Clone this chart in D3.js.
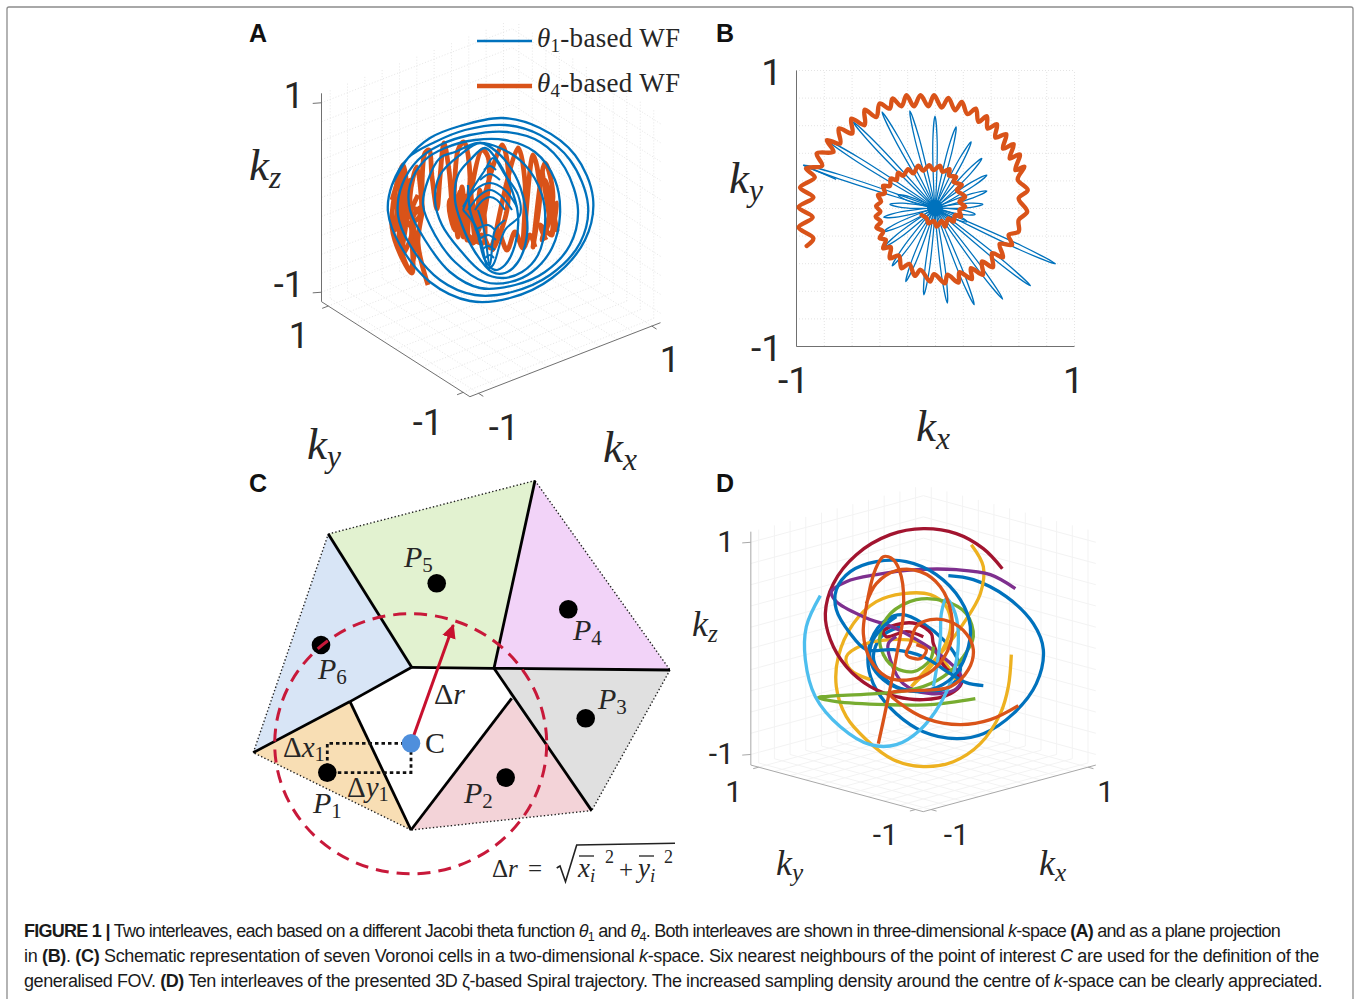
<!DOCTYPE html>
<html>
<head>
<meta charset="utf-8">
<style>
  html, body { margin: 0; padding: 0; background: #fff; }
  svg { display: block; }
</style>
<script src="https://cdn.jsdelivr.net/npm/d3@7"></script>
</head>
<body>
<div id="chart"></div>
<script>
"use strict";

var colors = { blue: '#0072BD', orange: '#D95319', yellow: '#EDB120', purple: '#7E2F8E', green: '#77AC30', cyan: '#4DBEEE', red: '#A2142F' };
var gridTicks = [-1, -0.8, -0.6, -0.4, -0.2, 0, 0.2, 0.4, 0.6, 0.8, 1];
var endTicks = [-1, 1];

// panel A, projected view coordinates
var aBlueSpiral = [[-0.98,0.25],[-0.82,0.52],[-0.60,0.72],[-0.30,0.84],[0.12,0.92],[0.50,0.82],[0.85,0.55],[1.03,0.12],[0.95,-0.30],[0.62,-0.68],[0.20,-0.88],[-0.20,-0.91],[-0.60,-0.72],[-0.90,-0.35],[-1.02,-0.02],[-0.98,0.25],[-0.82,0.52],
  [-0.55,0.68],[-0.25,0.80],[0.15,0.85],[0.50,0.75],[0.80,0.50],[0.98,0.05],[0.90,-0.33],[0.60,-0.65],[0.22,-0.82],[-0.15,-0.85],[-0.50,-0.70],[-0.80,-0.35],[-0.92,-0.05],[-0.88,0.25],[-0.72,0.50],
  [-0.50,0.65],[-0.20,0.75],[0.17,0.78],[0.50,0.68],[0.75,0.42],[0.88,0.00],[0.80,-0.35],[0.55,-0.62],[0.25,-0.75],[-0.10,-0.78],[-0.40,-0.62],[-0.65,-0.30],[-0.80,0.00],[-0.80,0.25],[-0.65,0.50],
  [-0.45,0.62],[-0.15,0.70],[0.15,0.70],[0.45,0.58],[0.65,0.30],[0.70,-0.05],[0.62,-0.38],[0.42,-0.62],[0.20,-0.72],[-0.05,-0.72],[-0.35,-0.52],[-0.55,-0.25],[-0.67,0.05],[-0.62,0.30],[-0.50,0.52],
  [-0.35,0.58],[-0.12,0.67],[0.10,0.62],[0.35,0.45],[0.52,0.15],[0.55,-0.15],[0.48,-0.45],[0.32,-0.62],[0.12,-0.68],[-0.08,-0.62],[-0.30,-0.40],[-0.48,-0.15],[-0.55,0.10],[-0.50,0.35],
  [-0.30,0.55],[-0.10,0.67],[0.07,0.58],[0.25,0.35],[0.35,0.05],[0.37,-0.25],[0.28,-0.52],[0.15,-0.63],[0.02,-0.62],[-0.15,-0.42],[-0.28,-0.15],[-0.35,0.10],[-0.32,0.35],
  [-0.20,0.50],[-0.05,0.62],[0.07,0.50],[0.20,0.25],[0.28,-0.05],[0.25,-0.35],[0.15,-0.55],[0.05,-0.60],[-0.05,-0.50],[-0.12,-0.25],[-0.20,0.00],[-0.22,0.25]];
var aBlueCore = [
  [[-0.27,0.00],[-0.18,0.20],[-0.05,0.40],[0.03,0.52],[0.15,0.35],[0.28,0.15],[0.30,-0.05],[0.15,-0.20],[0.03,-0.55],[-0.02,-0.58],[-0.08,-0.35],[-0.15,-0.15],[-0.27,0.00]],
  [[-0.27,0.03],[-0.15,0.20],[0.00,0.27],[0.15,0.20],[0.27,0.03]],
  [[-0.22,0.00],[-0.10,0.15],[0.00,0.20],[0.10,0.15],[0.22,0.00]],
  [[-0.15,0.00],[-0.07,0.10],[0.00,0.13],[0.07,0.10],[0.15,0.00]],
  [[-0.10,0.30],[0.00,0.36],[0.10,0.30]],
  [[-0.06,0.40],[0.00,0.44],[0.06,0.40]],
  [[-0.15,-0.20],[-0.02,-0.15],[0.05,-0.20]],
  [[-0.12,-0.30],[-0.02,-0.25],[0.06,-0.30]],
  [[-0.08,-0.40],[-0.02,-0.36],[0.05,-0.40]],
  [[-0.05,-0.48],[0.00,-0.45],[0.04,-0.48]],
  [[-0.12,0.00],[-0.06,-0.20],[0.00,-0.55],[0.05,-0.20],[0.15,-0.10]]
];
var aOrangeLeft = [[-0.62,-0.75],[-0.72,-0.33],[-0.68,0.03],[-0.77,-0.07],[-0.78,-0.63],[-0.87,-0.50],[-0.98,-0.17],[-0.93,0.27],[-0.87,0.45],[-0.83,0.13],[-0.90,-0.33],[-0.80,-0.60],[-0.75,-0.33],[-0.80,0.13],[-0.73,0.43],[-0.68,0.03]];
var aOrangeLeftDense = [[-0.98,0.10],[-0.88,0.40],[-0.95,-0.20],[-0.85,0.20],[-0.92,-0.35],[-0.82,0.00],[-0.88,-0.45],[-0.78,-0.20],[-0.94,0.05],[-0.80,0.30],[-0.90,0.15],[-0.70,-0.05],[-0.84,-0.15],[-0.72,0.15]];
var aOrangeRight = [[-0.68,0.03],[-0.65,0.57],[-0.61,0.60],[-0.58,0.33],[-0.53,0.01],[-0.50,0.33],[-0.46,0.67],[-0.41,0.40],[-0.37,0.00],[-0.32,0.60],[-0.26,0.68],[-0.20,0.33],[-0.27,-0.27],[-0.08,0.60],[-0.02,0.53],[-0.05,0.00],[-0.17,-0.33],[0.12,0.65],[0.17,0.50],[0.17,0.00],[0.03,-0.40],[0.28,0.62],[0.35,0.27],[0.33,-0.38],[0.43,0.55],[0.50,0.20],[0.43,-0.37],[0.55,0.47],[0.63,0.13],[0.52,-0.30],[0.67,0.07],[0.62,-0.23]];
var aOrangeEdge = [[0.52,0.40],[0.60,-0.10],[0.55,0.30],[0.65,0.00],[0.58,0.20],[0.67,-0.20],[0.60,0.10],[0.62,-0.25],[0.50,-0.15],[0.56,-0.30]];
var aOrangeBlob = [[-0.40,0.00],[-0.37,0.20],[-0.32,-0.27],[-0.28,0.23],[-0.23,-0.30],[-0.20,0.23],[-0.15,-0.27],[-0.10,0.20],[-0.07,-0.33],[-0.38,-0.07],[-0.33,0.13],[-0.27,-0.13],[-0.22,0.13],[-0.40,0.10],[-0.35,-0.20],[-0.30,0.18],[-0.26,-0.22],[-0.18,0.10],[-0.14,-0.18]];
var aOrangeBottom = [[-0.25,-0.25],[-0.17,-0.33],[-0.08,-0.25],[0.00,-0.38],[0.08,-0.22],[0.17,-0.40],[0.25,-0.22],[0.33,-0.38],[0.40,-0.25],[0.45,-0.37]];

// panel B, kx / ky
var bPetalTips = [[0.867,-0.405],[0.687,-0.564],[0.487,-0.660],[0.282,-0.701],[0.089,-0.689],[-0.080,-0.629],[-0.210,-0.533],[-0.308,-0.419],[-0.361,-0.280],[-0.369,-0.171],[-0.369,-0.067],[-0.325,0.027],[-0.265,0.094],[-0.947,0.311],[-0.778,0.492],[-0.590,0.624],[-0.381,0.696],[-0.181,0.704],[0.000,0.665],[0.152,0.588],[0.260,0.480],[0.337,0.359],[0.373,0.239],[0.373,0.123],[0.345,0.027],[0.289,-0.046],[0.229,-0.099]];
var bBlueHook = [[-0.947,0.311],[-0.711,0.207]];
var bOrange = [[-0.923,-0.275],[-0.875,-0.219],[-0.981,-0.140],[-0.880,-0.067],[-0.981,0.005],[-0.875,0.077],[-0.971,0.149],[-0.865,0.222],[-0.928,0.287],[-0.812,0.306],[-0.851,0.395],[-0.730,0.407],[-0.778,0.492],[-0.682,0.467],[-0.692,0.576],[-0.595,0.540],[-0.602,0.648],[-0.506,0.600],[-0.506,0.713],[-0.422,0.660],[-0.398,0.757],[-0.325,0.720],[-0.306,0.793],[-0.241,0.737],[-0.205,0.817],[-0.152,0.737],[-0.104,0.817],[-0.048,0.737],[-0.007,0.817],[0.048,0.728],[0.096,0.798],[0.145,0.708],[0.193,0.769],[0.234,0.680],[0.294,0.720],[0.313,0.624],[0.373,0.665],[0.378,0.576],[0.446,0.607],[0.434,0.511],[0.513,0.535],[0.489,0.431],[0.566,0.463],[0.537,0.359],[0.610,0.388],[0.578,0.275],[0.643,0.299],[0.595,0.207],[0.667,0.130],[0.602,0.070],[0.663,-0.027],[0.602,-0.087],[0.602,-0.171],[0.530,-0.195],[0.554,-0.267],[0.465,-0.260],[0.489,-0.357],[0.410,-0.328],[0.417,-0.429],[0.337,-0.388],[0.345,-0.484],[0.258,-0.436],[0.265,-0.516],[0.176,-0.465],[0.169,-0.540],[0.089,-0.484],[0.072,-0.545],[-0.007,-0.480],[-0.036,-0.533],[-0.104,-0.448],[-0.145,-0.492],[-0.186,-0.405],[-0.241,-0.436],[-0.260,-0.345],[-0.325,-0.364],[-0.318,-0.284],[-0.373,-0.292],[-0.354,-0.231],[-0.398,-0.219],[-0.373,-0.171],[-0.422,-0.140],[-0.388,-0.099],[-0.427,-0.063],[-0.393,-0.027],[-0.424,0.014],[-0.388,0.046],[-0.410,0.094],[-0.361,0.106],[-0.373,0.161],[-0.325,0.159],[-0.318,0.214],[-0.277,0.202],[-0.265,0.255],[-0.229,0.234],[-0.193,0.282],[-0.157,0.251],[-0.120,0.306],[-0.084,0.270],[-0.041,0.311],[-0.012,0.275],[0.036,0.306],[0.053,0.263],[0.104,0.282],[0.101,0.234],[0.152,0.227],[0.133,0.190],[0.193,0.166],[0.157,0.130],[0.217,0.082],[0.176,0.046],[0.217,0.010],[0.176,-0.014],[0.186,-0.063],[0.145,-0.051],[0.133,-0.099],[0.096,-0.075],[0.072,-0.135],[0.048,-0.094],[0.012,-0.135],[-0.007,-0.094],[-0.048,-0.111],[-0.060,-0.075],[-0.096,-0.051]];

// panel C, schematic units with the point of interest C at the origin
var cVertices = { a: [-82.7,209.3], b: [124,262.7], c: [259,73.3], d: [180.7,-67.3], e: [0,-86.7], f: [-157.7,-9.3], g: [0.7,76], h: [83,75], i: [100.7,45], j: [-61,41.7] };
var cCells = [
  { pts: ['a','b','h','g'], fill: '#e2f2d0' },
  { pts: ['b','c','h'], fill: '#f2d3f8' },
  { pts: ['h','c','d','i'], fill: '#e0e0e0' },
  { pts: ['i','d','e'], fill: '#f3d3d8' },
  { pts: ['j','e','f'], fill: '#f8deb4' },
  { pts: ['a','g','j','f'], fill: '#d8e5f6' }
];
var cSolidEdges = [['a','g'],['b','h'],['g','h'],['h','c'],['h','d'],['i','e'],['e','j'],['j','g'],['j','f']];
var cDottedEdges = [['a','b'],['b','c'],['c','d'],['d','e'],['e','f'],['f','a']];
var cPoints = [[25.7,160],[157.3,134],[174.7,25],[94.7,-34.3],[-83.7,-29.3],[-90,98.3]];
var cPointNames = [['P','5',404,567],['P','4',573,640],['P','3',598,709],['P','2',464,803],['P','1',313,813],['P','6',318,679]];
var cConnectors = [[[0,0],[-83.7,0],[-83.7,-29.3],[0,-29.3],[0,0]]];

// panel D, projected view coordinates
var dCurves = [
  { color: colors.blue, pts: [[0.25,0.71],[0.50,0.67],[0.83,0.50],[1.10,0.23],[1.20,-0.03],[1.13,-0.37],[0.90,-0.67],[0.60,-0.87],[0.33,-0.92],[0.00,-0.85],[-0.27,-0.67],[-0.47,-0.43],[-0.55,-0.20],[-0.52,0.07],[-0.37,0.27],[-0.20,0.32],[0.00,0.23],[0.20,0.07],[0.33,-0.10],[0.37,-0.23],[0.30,-0.37],[0.13,-0.45],[-0.07,-0.45],[-0.27,-0.40],[-0.43,-0.27],[-0.50,-0.10],[-0.42,0.10],[-0.23,0.20]] },
  { color: colors.yellow, pts: [[0.88,-0.08],[0.85,-0.40],[0.77,-0.67],[0.57,-0.97],[0.30,-1.15],[0.00,-1.20],[-0.30,-1.13],[-0.57,-0.93],[-0.77,-0.70],[-0.87,-0.40],[-0.85,-0.10],[-0.70,0.23],[-0.47,0.45],[-0.20,0.53],[0.07,0.52],[0.23,0.40],[0.27,0.17],[0.13,-0.13],[-0.10,-0.38]] },
  { color: colors.yellow, pts: [[0.48,1.02],[0.60,0.80],[0.57,0.53],[0.40,0.23],[0.23,0.00],[0.07,-0.18],[-0.12,-0.40]] },
  { color: colors.yellow, pts: [[-0.53,-0.33],[-0.73,-0.23],[-0.77,-0.10],[-0.60,0.02],[-0.33,0.07],[-0.07,0.05],[0.17,-0.10],[0.32,-0.33]] },
  { color: colors.red, pts: [[0.79,0.78],[0.60,0.98],[0.33,1.13],[0.00,1.18],[-0.33,1.12],[-0.67,0.92],[-0.90,0.63],[-0.98,0.33],[-0.93,0.07],[-0.77,-0.20],[-0.53,-0.40],[-0.27,-0.50],[0.00,-0.53],[0.27,-0.47],[0.38,-0.37],[0.37,-0.30],[0.23,-0.22],[0.10,0.03],[0.08,0.13],[-0.07,0.23],[-0.27,0.22],[-0.40,0.15],[-0.37,0.10],[-0.17,0.15],[0.00,0.10]] },
  { color: colors.purple, pts: [[0.92,0.58],[0.67,0.72],[0.33,0.77],[-0.07,0.77],[-0.47,0.72],[-0.77,0.65],[-0.92,0.55],[-0.87,0.45],[-0.60,0.30],[-0.27,0.18],[0.00,0.03],[0.23,-0.13],[0.38,-0.30],[0.33,-0.42],[0.07,-0.47],[-0.20,-0.37],[-0.33,-0.13],[-0.35,0.03],[-0.27,0.10]] },
  { color: colors.green, pts: [[0.52,-0.52],[0.07,-0.58],[-0.37,-0.58],[-0.87,-0.55],[-1.05,-0.51],[-0.87,-0.49],[-0.47,-0.47],[-0.07,-0.42],[0.20,-0.30],[0.40,-0.10],[0.50,0.10],[0.43,0.33],[0.23,0.45],[-0.07,0.47],[-0.33,0.33],[-0.43,0.13],[-0.42,-0.03],[-0.30,-0.20],[-0.10,-0.25],[0.07,-0.13],[0.10,0.00]] },
  { color: colors.cyan, pts: [[-1.03,0.51],[-1.17,0.20],[-1.18,-0.13],[-1.08,-0.50],[-0.83,-0.80],[-0.53,-0.98],[-0.27,-0.98],[-0.03,-0.83],[0.17,-0.57],[0.30,-0.27],[0.35,0.03],[0.32,0.33],[0.23,0.48],[0.18,0.33],[0.17,0.07],[0.13,-0.23],[0.10,-0.40]] },
  { color: colors.blue, pts: [[0.60,-0.39],[0.43,-0.36],[0.27,-0.27],[0.00,-0.10],[-0.30,-0.03],[-0.57,-0.03],[-0.73,0.13],[-0.87,0.37],[-0.87,0.57],[-0.73,0.75],[-0.47,0.85],[-0.17,0.85],[0.13,0.72],[0.37,0.47],[0.47,0.20],[0.43,-0.07],[0.30,-0.30],[0.07,-0.43],[-0.20,-0.43],[-0.40,-0.33],[-0.52,-0.17],[-0.52,0.03],[-0.40,0.20],[-0.27,0.30]] },
  { color: colors.orange, pts: [[-0.45,-0.97],[-0.37,-0.60],[-0.27,-0.10],[-0.20,0.33],[-0.22,0.70],[-0.30,0.87],[-0.40,0.90],[-0.48,0.77],[-0.57,0.40],[-0.60,0.13],[-0.53,-0.13],[-0.37,-0.30],[-0.13,-0.33],[0.10,-0.23],[0.27,0.03],[0.28,0.33],[0.17,0.60],[-0.03,0.75],[-0.27,0.76],[-0.47,0.63],[-0.57,0.43]] },
  { color: colors.orange, pts: [[0.95,-0.59],[0.67,-0.73],[0.37,-0.78],[0.03,-0.72],[-0.23,-0.57],[-0.33,-0.47],[0.27,-0.40],[0.45,-0.23],[0.50,-0.03],[0.43,0.13],[0.27,0.25],[0.07,0.27],[-0.07,0.20],[-0.13,0.03],[-0.17,-0.08],[-0.03,-0.12],[0.03,-0.03],[-0.07,0.02]] }
];

var captionLines = [
  { y: 937, width: 1256, parts: [
    { t: 'FIGURE 1 |', b: 1 }, { t: ' Two interleaves, each based on a different Jacobi theta function ' }, { t: 'θ', i: 1 }, { t: '1', sub: 1 }, { t: ' and ' }, { t: 'θ', i: 1 }, { t: '4', sub: 1 }, { t: '. Both interleaves are shown in three-dimensional ' }, { t: 'k', i: 1 }, { t: '-space ' }, { t: '(A)', b: 1 }, { t: ' and as a plane projection' }] },
  { y: 962, width: 1295, parts: [
    { t: 'in ' }, { t: '(B)', b: 1 }, { t: '. ' }, { t: '(C)', b: 1 }, { t: ' Schematic representation of seven Voronoi cells in a two-dimensional ' }, { t: 'k', i: 1 }, { t: '-space. Six nearest neighbours of the point of interest ' }, { t: 'C', i: 1 }, { t: ' are used for the definition of the' }] },
  { y: 987, width: 1298, parts: [
    { t: 'generalised FOV. ' }, { t: '(D)', b: 1 }, { t: ' Ten interleaves of the presented 3D ζ-based Spiral trajectory. The increased sampling density around the centre of ' }, { t: 'k', i: 1 }, { t: '-space can be clearly appreciated.' }] }
];

var SANS = '"Liberation Sans", Arial, sans-serif';
var TICKS = 'Roboto, "Liberation Sans", sans-serif';
var SERIF = '"Liberation Serif", serif';
var width = 1356;
var height = 999;

var svg = d3.select('#chart').append('svg').attr('width', width).attr('height', height);

svg.append('rect').attr('x', 7).attr('y', 7).attr('width', 1346).attr('height', 1010).attr('rx', 2)
  .attr('fill', '#fff').attr('stroke', '#8c8c8c').attr('stroke-width', 1.3);

var smooth = d3.curveCatmullRom.alpha(0.5);

// text with optional italic / subscript runs
function mathText(parent, x, y, parts, size, family, fill, drop) {
  var text = parent.append('text').attr('x', x).attr('y', y)
    .attr('font-family', family || SERIF).attr('font-size', size).attr('fill', fill || '#262626');
  var offset = 0;
  var subDrop = drop === undefined ? 0.2 : drop;
  parts.forEach(function (p) {
    var target = p.sub ? size * subDrop : 0;
    text.append('tspan')
      .attr('dy', target - offset)
      .attr('font-style', p.i ? 'italic' : 'normal')
      .attr('font-weight', p.b ? 'bold' : 'normal')
      .attr('font-size', p.sub ? size * 0.7 : size)
      .text(p.t);
    offset = target;
  });
  return text;
}

function kLabel(parent, x, y, axis, size) {
  return mathText(parent, x, y, [{ t: 'k', i: 1 }, { t: axis, i: 1, sub: 1 }], size, SERIF, '#262626', 0.17);
}

function tickLabel(parent, x, y, value, size) {
  parent.append('text').attr('x', x).attr('y', y).attr('text-anchor', 'end')
    .attr('font-family', TICKS).attr('font-size', size).attr('fill', '#262626').text(value);
}

function panelLetter(letter, x, y) {
  svg.append('text').attr('x', x).attr('y', y).attr('font-family', SANS).attr('font-weight', 'bold')
    .attr('font-size', 25).attr('fill', '#111').text(letter);
}

// oblique box with grid walls, used by panels A and D
function drawBox(g, u, v, box) {
  var proj = function (kx, ky, kz) {
    return [u(box.ux(kx) + box.uy(ky)) + box.dx, v(box.vx(kx) + box.vy(ky) + box.vz(kz)) + box.dy];
  };
  var L = box.limit;
  var seg = function (a, b, stroke, w, dash) {
    var p = proj(a[0], a[1], a[2]);
    var q = proj(b[0], b[1], b[2]);
    g.append('line').attr('x1', p[0]).attr('y1', p[1]).attr('x2', q[0]).attr('y2', q[1])
      .attr('stroke', stroke).attr('stroke-width', w).attr('stroke-dasharray', dash || null);
  };
  gridTicks.forEach(function (t) {
    seg([t, L, -L], [t, L, L], box.grid, 1, box.dash);
    seg([-L, L, t], [L, L, t], box.grid, 1, box.dash);
    seg([L, t, -L], [L, t, L], box.grid, 1, box.dash);
    seg([L, -L, t], [L, L, t], box.grid, 1, box.dash);
    seg([t, -L, -L], [t, L, -L], box.grid, 1, box.dash);
    seg([-L, t, -L], [L, t, -L], box.grid, 1, box.dash);
  });
  seg([-L, L, -L], [-L, L, L], box.axis, 1);
  seg([-L, L, -L], [-L, -L, -L], box.axis, 1);
  seg([-L, -L, -L], [L, -L, -L], box.axis, 1);
  endTicks.forEach(function (t) {
    seg([-L, L, t], [-L - 0.07, L + 0.04, t], box.axis, 1);
    seg([-L, t, -L], [-L - 0.07, t, -L], box.axis, 1);
    seg([t, -L, -L], [t, -L - 0.07, -L], box.axis, 1);
  });
}

// ---- panel A
var aG = svg.append('g');
var aU = d3.scaleLinear().domain([-1, 1]).range([390, 590]);
var aV = d3.scaleLinear().domain([-1, 1]).range([310, 110]);
drawBox(aG, aU, aV, {
  limit: 1.1, dx: 1, dy: -2, grid: '#e6e6e6', axis: '#707070', dash: '1 2',
  ux: d3.scaleLinear().domain([-1.1, 1.1]).range([-0.953, 0.953]),
  uy: d3.scaleLinear().domain([-1.1, 1.1]).range([0.742, -0.742]),
  vx: d3.scaleLinear().domain([-1.1, 1.1]).range([-0.37, 0.37]),
  vy: d3.scaleLinear().domain([-1.1, 1.1]).range([-0.475, 0.475]),
  vz: d3.scaleLinear().domain([-1.1, 1.1]).range([-1.042, 1.042])
});
var aLine = d3.line().x(function (d) { return aU(d[0]); }).y(function (d) { return aV(d[1]); }).curve(smooth);
[aOrangeLeft, aOrangeLeftDense, aOrangeRight, aOrangeEdge, aOrangeBlob, aOrangeBottom].forEach(function (s) {
  aG.append('path').attr('d', aLine(s)).attr('fill', 'none').attr('stroke', colors.orange).attr('stroke-width', 4.8).attr('stroke-linejoin', 'round');
});
aG.append('path').attr('d', aLine(aBlueSpiral)).attr('fill', 'none').attr('stroke', colors.blue).attr('stroke-width', 2.3);
aBlueCore.forEach(function (s) {
  aG.append('path').attr('d', aLine(s)).attr('fill', 'none').attr('stroke', colors.blue).attr('stroke-width', 2.1);
});
aG.append('line').attr('x1', 477).attr('x2', 532).attr('y1', 41).attr('y2', 41).attr('stroke', colors.blue).attr('stroke-width', 2.4);
aG.append('line').attr('x1', 477).attr('x2', 532).attr('y1', 86).attr('y2', 86).attr('stroke', colors.orange).attr('stroke-width', 4.4);
mathText(aG, 537, 47, [{ t: 'θ', i: 1 }, { t: '1', sub: 1 }, { t: '-based WF' }], 27).attr('textLength', 143);
mathText(aG, 537, 92, [{ t: 'θ', i: 1 }, { t: '4', sub: 1 }, { t: '-based WF' }], 27).attr('textLength', 143);
tickLabel(aG, 304, 108, '1', 36);
tickLabel(aG, 304, 297, '-1', 36);
tickLabel(aG, 309, 348, '1', 36);
tickLabel(aG, 443, 435, '-1', 36);
tickLabel(aG, 519, 440, '-1', 36);
tickLabel(aG, 680, 372, '1', 36);
kLabel(aG, 249, 180, 'z', 45);
kLabel(aG, 307, 459, 'y', 45);
kLabel(aG, 603, 462, 'x', 45);

// ---- panel B
var bG = svg.append('g');
var bX = d3.scaleLinear().domain([-1, 1]).range([796, 1074]);
var bY = d3.scaleLinear().domain([-1, 1]).range([346, 70]);
var gridX = bG.append('g').attr('transform', 'translate(0,346)')
  .call(d3.axisBottom(bX).tickValues(gridTicks).tickSize(-276).tickFormat(''));
var gridY = bG.append('g').attr('transform', 'translate(796,0)')
  .call(d3.axisLeft(bY).tickValues(gridTicks).tickSize(-278).tickFormat(''));
[gridX, gridY].forEach(function (g) {
  g.select('.domain').remove();
  g.selectAll('line').attr('stroke', '#e4e4e4').attr('stroke-dasharray', '1 2');
});
var axisX = bG.append('g').attr('transform', 'translate(0,346)')
  .call(d3.axisBottom(bX).tickValues(endTicks).tickSizeOuter(0).tickSize(0).tickPadding(21).tickFormat(d3.format('d')));
var axisY = bG.append('g').attr('transform', 'translate(796,0)')
  .call(d3.axisLeft(bY).tickValues(endTicks).tickSizeOuter(0).tickSize(0).tickPadding(14).tickFormat(d3.format('d')));
[axisX, axisY].forEach(function (g) {
  g.select('.domain').attr('stroke', '#707070').attr('stroke-width', 1);
  g.selectAll('text').attr('font-family', TICKS).attr('font-size', 37).attr('fill', '#262626');
});
axisX.selectAll('text').text(function (d) { return d; }).attr('dx', function (d) { return d < 0 ? -3 : -1; });
axisY.selectAll('text').text(function (d) { return d; }).attr('dy', '0.38em');
var bLine = d3.line().x(function (d) { return bX(d[0]); }).y(function (d) { return bY(d[1]); }).curve(smooth);
// each petal leaves the centre, reaches the tip and comes back
var petal = d3.line().x(function (d) { return d[0]; }).y(function (d) { return d[1]; }).curve(d3.curveCatmullRomClosed.alpha(0.5));
bPetalTips.forEach(function (tip) {
  var cx = bX(0);
  var cy = bY(0);
  var tx = bX(tip[0]);
  var ty = bY(tip[1]);
  var len = Math.hypot(tx - cx, ty - cy);
  var nx = -(ty - cy) / len * 2.2;
  var ny = (tx - cx) / len * 2.2;
  var mx = cx + (tx - cx) * 0.72;
  var my = cy + (ty - cy) * 0.72;
  bG.append('path').attr('d', petal([[cx, cy], [mx + nx, my + ny], [tx, ty], [mx - nx, my - ny]]))
    .attr('fill', 'none').attr('stroke', colors.blue).attr('stroke-width', 1.25);
});
bG.append('path').attr('d', bLine(bBlueHook)).attr('fill', 'none').attr('stroke', colors.blue).attr('stroke-width', 1.25);
bG.append('circle').attr('cx', bX(0)).attr('cy', bY(0)).attr('r', 8).attr('fill', colors.blue);
bG.append('path').attr('d', bLine(bOrange)).attr('fill', 'none').attr('stroke', colors.orange).attr('stroke-width', 4.4).attr('stroke-linejoin', 'round').attr('stroke-linecap', 'round');
kLabel(bG, 916, 441, 'x', 45);
kLabel(bG, 729, 193, 'y', 45);

// ---- panel C
var cG = svg.append('g');
var cX = d3.scaleLinear().domain([-160, 260]).range([251, 671]);
var cY = d3.scaleLinear().domain([-130, 270]).range([873.3, 473.3]);
var cLine = d3.line().x(function (d) { return cX(d[0]); }).y(function (d) { return cY(d[1]); });
var vertex = function (k) { return cVertices[k]; };
cCells.forEach(function (cell) {
  cG.append('path').attr('d', cLine(cell.pts.map(vertex)) + 'Z').attr('fill', cell.fill);
});
cDottedEdges.forEach(function (e) {
  cG.append('path').attr('d', cLine(e.map(vertex))).attr('stroke', '#222').attr('stroke-width', 1.4).attr('stroke-dasharray', '1.4 2.2').attr('fill', 'none');
});
cSolidEdges.forEach(function (e) {
  cG.append('path').attr('d', cLine(e.map(vertex))).attr('stroke', '#000').attr('stroke-width', 2.8).attr('fill', 'none');
});
cConnectors.forEach(function (s) {
  cG.append('path').attr('d', cLine(s)).attr('stroke', '#111').attr('stroke-width', 2.8).attr('stroke-dasharray', '3.5 3').attr('fill', 'none');
});
cG.selectAll('circle.site').data(cPoints).enter().append('circle').attr('class', 'site')
  .attr('cx', function (d) { return cX(d[0]); }).attr('cy', function (d) { return cY(d[1]); })
  .attr('r', 9.3).attr('fill', '#000');
cG.append('ellipse').attr('cx', cX(-0.3)).attr('cy', cY(-0.5)).attr('rx', 136).attr('ry', 130)
  .attr('fill', 'none').attr('stroke', '#c8193a').attr('stroke-width', 3).attr('stroke-dasharray', '13 8');
svg.append('defs').append('marker').attr('id', 'head').attr('markerUnits', 'userSpaceOnUse')
  .attr('viewBox', '0 0 14 14').attr('refX', 13).attr('refY', 7).attr('markerWidth', 14).attr('markerHeight', 14).attr('orient', 'auto')
  .append('path').attr('d', 'M0,0L14,7L0,14Z').attr('fill', '#c8102e');
cG.append('path').attr('d', cLine([[0, 0], [42.3, 118.3]])).attr('stroke', '#c8102e').attr('stroke-width', 3).attr('fill', 'none').attr('marker-end', 'url(#head)');
cG.append('circle').attr('cx', cX(0)).attr('cy', cY(0)).attr('r', 9.3).attr('fill', '#4f8fdc');

var CFONT = '"Liberation Serif", serif';
cPointNames.forEach(function (n) {
  mathText(cG, n[2], n[3], [{ t: n[0], i: 1 }, { t: n[1], sub: 1 }], 30, CFONT, '#262626', 0.15);
});
mathText(cG, 434, 704, [{ t: 'Δ' }, { t: 'r', i: 1 }], 30, CFONT);
mathText(cG, 425, 753, [{ t: 'C' }], 30, CFONT);
mathText(cG, 283, 757, [{ t: 'Δ' }, { t: 'x', i: 1 }, { t: '1', sub: 1 }], 29, CFONT, '#262626', 0.15);
mathText(cG, 347, 797, [{ t: 'Δ' }, { t: 'y', i: 1 }, { t: '1', sub: 1 }], 29, CFONT, '#262626', 0.15);
// formula
mathText(cG, 492, 877, [{ t: 'Δ' }, { t: 'r', i: 1 }], 25, CFONT);
mathText(cG, 528, 877, [{ t: '=' }], 25, CFONT);
cG.append('path').attr('d', 'M556.7,868L560,866L565.5,881.7L576.7,845L675,843.3').attr('fill', 'none').attr('stroke', '#222').attr('stroke-width', 1.6);
mathText(cG, 578, 877, [{ t: 'x', i: 1 }, { t: 'i', i: 1, sub: 1 }], 27, CFONT);
mathText(cG, 605, 863, [{ t: '2' }], 18, CFONT);
mathText(cG, 619, 878, [{ t: '+' }], 25, CFONT);
mathText(cG, 638, 877, [{ t: 'y', i: 1 }, { t: 'i', i: 1, sub: 1 }], 27, CFONT);
mathText(cG, 664, 863, [{ t: '2' }], 18, CFONT);
cG.append('line').attr('x1', 579).attr('x2', 594).attr('y1', 856).attr('y2', 856).attr('stroke', '#222').attr('stroke-width', 1.3);
cG.append('line').attr('x1', 639).attr('x2', 654).attr('y1', 856).attr('y2', 856).attr('stroke', '#222').attr('stroke-width', 1.3);

// ---- panel D
var dG = svg.append('g');
var dU = d3.scaleLinear().domain([-1, 1]).range([823.33, 1023.33]);
var dV = d3.scaleLinear().domain([-1, 1]).range([746.67, 546.67]);
drawBox(dG, dU, dV, {
  limit: 1.1, dx: 0, dy: 1.7, grid: '#f3f3f3', axis: '#a8a8a8', dash: null,
  ux: d3.scaleLinear().domain([-1.1, 1.1]).range([-0.863, 0.863]),
  uy: d3.scaleLinear().domain([-1.1, 1.1]).range([0.862, -0.862]),
  vx: d3.scaleLinear().domain([-1.1, 1.1]).range([-0.233, 0.233]),
  vy: d3.scaleLinear().domain([-1.1, 1.1]).range([-0.233, 0.233]),
  vz: d3.scaleLinear().domain([-1.1, 1.1]).range([-1.167, 1.167])
});
var dLine = d3.line().x(function (d) { return dU(d[0]); }).y(function (d) { return dV(d[1]); }).curve(smooth);
dG.selectAll('path.curve').data(dCurves).enter().append('path').attr('class', 'curve')
  .attr('d', function (d) { return dLine(d.pts); })
  .attr('fill', 'none').attr('stroke', function (d) { return d.color; }).attr('stroke-width', 3.3);
tickLabel(dG, 734, 552, '1', 30);
tickLabel(dG, 734, 764, '-1', 30);
tickLabel(dG, 742, 802, '1', 30);
tickLabel(dG, 898, 845, '-1', 30);
tickLabel(dG, 969, 845, '-1', 30);
tickLabel(dG, 1114, 802, '1', 30);
kLabel(dG, 692, 636, 'z', 36);
kLabel(dG, 776, 875, 'y', 36);
kLabel(dG, 1039, 875, 'x', 36);

panelLetter('A', 249, 42);
panelLetter('B', 716, 42);
panelLetter('C', 249, 492);
panelLetter('D', 716, 492);

// ---- caption, each line fitted to its width
captionLines.forEach(function (line) {
  var text = mathText(svg, 24, line.y, line.parts, 18, SANS, '#1a1a1a');
  var chars = text.text().length;
  var spacing = (line.width - text.node().getComputedTextLength()) / chars;
  text.attr('letter-spacing', spacing);
});
</script>
</body>
</html>
